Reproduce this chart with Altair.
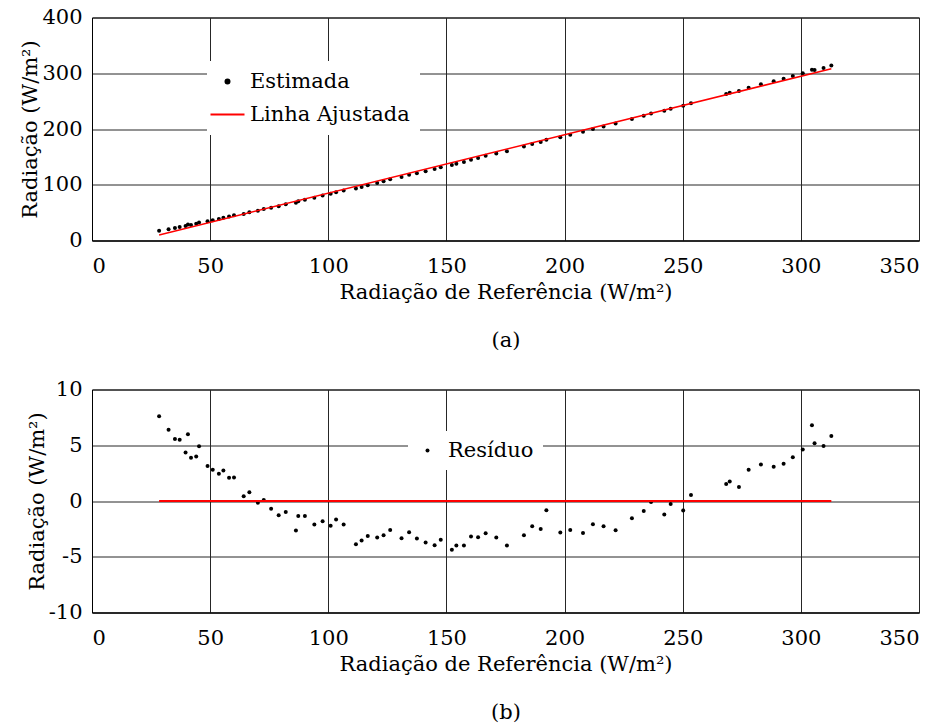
import altair as alt
import pandas as pd

# Reference radiation (W/m2)
ref_x = [28.4, 32.4, 35.1, 37.1, 39.6, 40.6, 41.9, 44.1, 45.3, 48.9,
         51.1, 53.7, 55.6, 58.0, 60.1, 64.2, 66.6, 70.2, 72.7, 75.8,
         79.0, 82.0, 86.3, 87.3, 90.1, 94.1, 97.6, 101.0, 103.3, 106.5,
         111.7, 114.1, 116.7, 120.7, 123.4, 126.2, 131.0, 134.2, 137.5, 141.2,
         145.0, 147.6, 152.3, 154.2, 157.4, 160.4, 163.4, 166.6, 171.1, 175.6,
         182.8, 186.3, 189.9, 192.3, 198.2, 202.4, 207.8, 212.0, 216.5, 221.6,
         228.5, 233.5, 236.6, 242.2, 244.9, 250.2, 253.5, 268.4, 269.9, 273.8,
         277.9, 283.1, 288.5, 292.7, 296.6, 300.8, 304.7, 305.8, 309.6, 312.9]

# Estimated radiation (W/m2)
estimada = [17.4, 20.4, 22.4, 24.4, 25.9, 28.5, 27.8, 30.2, 32.4, 34.4,
            36.4, 38.7, 41.0, 42.9, 45.1, 47.7, 50.6, 53.5, 56.3, 58.8,
            61.6, 65.0, 67.8, 70.2, 73.1, 76.6, 80.5, 83.7, 86.6, 89.6,
            93.2, 96.1, 99.2, 103.3, 106.3, 109.7, 114.0, 117.9, 120.8, 124.3,
            128.1, 131.3, 135.3, 137.7, 141.0, 145.0, 148.1, 151.8, 156.1, 160.1,
            168.6, 173.1, 176.6, 180.8, 185.0, 189.6, 195.0, 200.2, 204.7, 209.7,
            218.0, 223.9, 228.0, 232.7, 236.5, 241.5, 246.3, 262.9, 264.8, 268.3,
            274.2, 280.1, 285.6, 290.2, 294.9, 300.0, 306.3, 305.8, 309.6, 313.9]

# Residuals (W/m2)
residuo = [7.59, 6.40, 5.56, 5.50, 4.35, 5.98, 3.87, 3.99, 4.91, 3.15,
           2.80, 2.44, 2.74, 2.08, 2.11, 0.42, 0.78, -0.15, 0.09, -0.69,
           -1.28, -0.98, -2.65, -1.34, -1.34, -2.11, -1.82, -2.23, -1.67, -2.11,
           -3.87, -3.54, -3.15, -3.27, -3.07, -2.59, -3.33, -2.80, -3.36, -3.72,
           -3.96, -3.48, -4.38, -3.99, -3.99, -3.18, -3.24, -2.89, -3.27, -3.99,
           -3.07, -2.26, -2.50, -0.83, -2.83, -2.59, -2.86, -2.08, -2.26, -2.62,
           -1.55, -0.89, -0.09, -1.22, -0.27, -0.86, 0.54, 1.52, 1.76, 1.25,
           2.80, 3.27, 3.07, 3.33, 3.93, 4.61, 6.79, 5.18, 4.94, 5.83]

# Fitted line end points and zero line
fit_x = [28.4, 312.9]
fit_y = [9.8, 308.1]
zero_y = [0.0, 0.0]

x_ticks = [0, 50, 100, 150, 200, 250, 300, 350]
y_ticks_top = [0, 100, 200, 300, 400]
y_ticks_bot = [-10, -5, 0, 5, 10]

FONT = "DejaVu Serif"
FS = 21
RED = "#ff0000"
W, H = 827, 223
PTS_NAME = "Estimada"
LINE_NAME = "Linha Ajustada"
RES_NAME = "Resíduo"

df_top = pd.DataFrame({"ref": ref_x, "val": estimada, "serie": PTS_NAME})
df_fit = pd.DataFrame({"ref": fit_x, "val": fit_y, "serie": LINE_NAME})
df_res = pd.DataFrame({"ref": ref_x, "val": residuo, "serie": RES_NAME})
df_zero = pd.DataFrame({"ref": fit_x, "val": zero_y})

IS_LINE = f"datum.value === '{LINE_NAME}'"

top_legend = alt.Legend(
    title=None, orient="none", legendX=115, legendY=43.5,
    fillColor="white", padding=10, labelOffset=12, labelLimit=400,
    labelFont=FONT, labelFontSize=FS, labelColor="black", rowPadding=11,
    symbolType={"expr": f"{IS_LINE} ? 'stroke' : 'circle'"},
    symbolSize={"expr": f"{IS_LINE} ? 1156 : 16"},
    symbolStrokeColor={"expr": f"{IS_LINE} ? '{RED}' : 'transparent'"},
    symbolFillColor={"expr": f"{IS_LINE} ? 'transparent' : 'black'"},
    symbolStrokeWidth=2, symbolOpacity=1,
)

bot_legend = alt.Legend(
    title=None, orient="none", legendX=316, legendY=41.5,
    fillColor="white", padding=9, labelOffset=10, labelLimit=400,
    labelFont=FONT, labelFontSize=FS, labelColor="black",
    symbolType="circle", symbolSize=16, symbolStrokeWidth=0,
    symbolFillColor="black", symbolOpacity=1,
)

xscale = alt.Scale(domain=[0, 350], nice=False)
top_color = alt.Scale(domain=[PTS_NAME, LINE_NAME], range=["black", RED])
bot_color = alt.Scale(domain=[RES_NAME], range=["black"])

top_pts = alt.Chart(df_top).mark_point(filled=True, size=16, opacity=1).encode(
    x=alt.X("ref:Q", scale=xscale,
            axis=alt.Axis(title=["Radiação de Referência (W/m²)", "(a)"],
                          values=x_ticks)),
    y=alt.Y("val:Q", scale=alt.Scale(domain=[0, 400], nice=False),
            axis=alt.Axis(title="Radiação (W/m²)", values=y_ticks_top)),
    color=alt.Color("serie:N", scale=top_color, legend=top_legend),
)
top_line = alt.Chart(df_fit).mark_line(strokeWidth=1.5).encode(
    x="ref:Q",
    y="val:Q",
    color=alt.Color("serie:N", scale=top_color, legend=top_legend),
)
top = alt.layer(top_pts, top_line).properties(width=W, height=H)

bot_pts = alt.Chart(df_res).mark_point(filled=True, size=16, opacity=1).encode(
    x=alt.X("ref:Q", scale=xscale,
            axis=alt.Axis(title=["Radiação de Referência (W/m²)", "(b)"],
                          values=x_ticks)),
    y=alt.Y("val:Q", scale=alt.Scale(domain=[-10, 10], nice=False),
            axis=alt.Axis(title="Radiação (W/m²)", values=y_ticks_bot,
                          labelExpr="toString(datum.value)")),
    color=alt.Color("serie:N", scale=bot_color, legend=bot_legend),
)
bot_line = alt.Chart(df_zero).mark_line(strokeWidth=2, color=RED).encode(
    x="ref:Q",
    y="val:Q",
)
bot = alt.layer(bot_pts, bot_line).properties(width=W, height=H)

chart = alt.vconcat(top, bot, spacing=26).resolve_scale(
    color="independent").resolve_legend(color="independent").properties(
    padding={"left": 11, "top": -2.5, "right": 0, "bottom": 0}
).configure(
    font=FONT,
).configure_axis(
    labelFont=FONT, labelFontSize=FS, titleFont=FONT, titleFontSize=FS,
    titleFontWeight="normal", labelColor="black", titleColor="black",
    domainColor="black", domainWidth=1, gridColor="#262626", gridOpacity=1,
    gridWidth=1, ticks=False, labelPadding=15, titlePadding=5,
).configure_axisY(
    labelPadding=10, titlePadding=1,
).configure_axisX(
    titleLineHeight=48,
).configure_view(
    stroke="black", strokeWidth=1,
)

chart.save("out.html", embed_options={"renderer": "svg", "actions": False})
